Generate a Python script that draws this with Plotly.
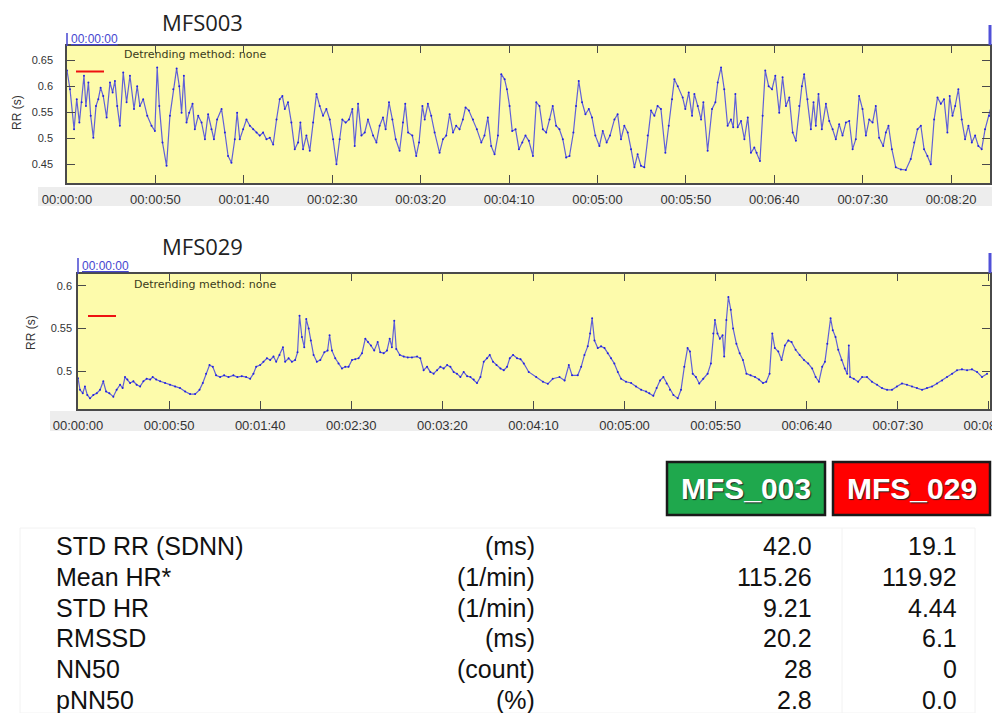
import plotly.graph_objects as go

# ---------------------------------------------------------------- data
# RR tachogram of subject MFS003: (time in s, RR interval in s)
rr_mfs003 = [
    (0, 0.63), (1.7, 0.594), (4.0, 0.517), (5.5, 0.575), (7.0, 0.53), (8.3, 0.569),
    (9.6, 0.62), (10.7, 0.562), (12.1, 0.607), (13.4, 0.543), (14.9, 0.501), (16.4, 0.562),
    (17.7, 0.575), (19.0, 0.597), (20.5, 0.581), (22.4, 0.54), (24.3, 0.607), (25.8, 0.588),
    (27.1, 0.61), (28.4, 0.562), (29.9, 0.524), (31.8, 0.626), (33.7, 0.569), (35.6, 0.62),
    (37.9, 0.556), (39.7, 0.60), (41.2, 0.562), (43.1, 0.575), (45.4, 0.543), (47.8, 0.524),
    (49.7, 0.514), (51.0, 0.636), (52.2, 0.562), (54.0, 0.492), (56.3, 0.447), (58.2, 0.543),
    (60.1, 0.594), (62.0, 0.634), (63.5, 0.60), (64.8, 0.549), (66.1, 0.62), (67.6, 0.53),
    (69.1, 0.549), (71.0, 0.566), (72.3, 0.517), (74.2, 0.543), (76.1, 0.53), (78.0, 0.498),
    (79.8, 0.546), (81.7, 0.517), (83.1, 0.498), (84.9, 0.536), (87.4, 0.556), (89.3, 0.511),
    (91.1, 0.466), (93.0, 0.453), (94.9, 0.498), (96.2, 0.549), (97.7, 0.498), (99.6, 0.517),
    (101.5, 0.536), (103.4, 0.524), (105.3, 0.517), (107.2, 0.511), (109.0, 0.505), (110.9, 0.511),
    (112.8, 0.498), (114.7, 0.501), (116.6, 0.488), (118.5, 0.536), (120.3, 0.575), (121.8, 0.581),
    (123.2, 0.556), (125.0, 0.569), (126.9, 0.53), (128.8, 0.479), (130.7, 0.492), (132.0, 0.53),
    (133.5, 0.479), (135.4, 0.505), (137.3, 0.476), (139.2, 0.53), (141.1, 0.585), (142.9, 0.562),
    (144.8, 0.543), (146.7, 0.556), (148.6, 0.536), (150.5, 0.498), (152.4, 0.45), (154.2, 0.498),
    (155.7, 0.536), (157.6, 0.53), (159.5, 0.536), (161.4, 0.556), (162.7, 0.485), (164.6, 0.566),
    (166.5, 0.505), (168.4, 0.511), (170.2, 0.536), (173.1, 0.505), (175.0, 0.492), (176.8, 0.524),
    (178.7, 0.54), (180.2, 0.517), (182.1, 0.569), (184.0, 0.536), (185.9, 0.498), (188.1, 0.476),
    (190.0, 0.53), (191.3, 0.566), (192.9, 0.511), (195.3, 0.505), (197.5, 0.466), (199.1, 0.492),
    (201.0, 0.562), (202.3, 0.536), (204.1, 0.566), (206.0, 0.543), (207.9, 0.511), (210.7, 0.472),
    (212.6, 0.498), (214.5, 0.505), (216.4, 0.546), (218.3, 0.511), (220.1, 0.524), (222.0, 0.517),
    (223.9, 0.536), (225.4, 0.559), (227.3, 0.553), (229.6, 0.536), (231.8, 0.517), (234.3, 0.492),
    (236.1, 0.505), (238.0, 0.54), (239.9, 0.485), (241.8, 0.469), (243.7, 0.505), (245.6, 0.623),
    (247.5, 0.613), (248.8, 0.594), (250.3, 0.562), (251.8, 0.514), (253.7, 0.517), (255.6, 0.479),
    (257.5, 0.492), (259.3, 0.505), (261.2, 0.495), (263.5, 0.466), (265.4, 0.569), (267.2, 0.562),
    (269.1, 0.517), (271.0, 0.511), (272.9, 0.536), (274.7, 0.562), (276.6, 0.524), (278.5, 0.517),
    (280.4, 0.498), (282.3, 0.463), (284.2, 0.466), (286.4, 0.511), (287.9, 0.562), (289.4, 0.61),
    (291.3, 0.569), (293.2, 0.546), (295.1, 0.556), (296.9, 0.54), (298.8, 0.505), (301.1, 0.485),
    (303.0, 0.514), (305.2, 0.492), (307.1, 0.505), (309.6, 0.536), (311.4, 0.546), (313.3, 0.498),
    (315.2, 0.524), (317.1, 0.511), (319.0, 0.479), (320.9, 0.444), (322.7, 0.469), (324.6, 0.447),
    (326.5, 0.444), (328.4, 0.505), (330.3, 0.553), (332.2, 0.543), (334.0, 0.562), (335.9, 0.556),
    (338.4, 0.472), (340.3, 0.524), (342.2, 0.575), (343.5, 0.613), (345.4, 0.60), (348.2, 0.578),
    (349.7, 0.556), (351.6, 0.588), (353.5, 0.543), (354.8, 0.585), (356.7, 0.562), (358.6, 0.536),
    (359.9, 0.569), (362.3, 0.476), (364.8, 0.556), (366.7, 0.569), (368.0, 0.607), (369.9, 0.636),
    (371.7, 0.594), (373.6, 0.524), (375.5, 0.536), (376.8, 0.521), (378.0, 0.585), (379.3, 0.521),
    (381.2, 0.533), (383.1, 0.498), (385.0, 0.54), (386.8, 0.472), (388.7, 0.482), (390.0, 0.472),
    (391.9, 0.456), (393.4, 0.543), (394.9, 0.63), (396.8, 0.60), (398.7, 0.594), (400.6, 0.62),
    (402.8, 0.549), (404.7, 0.617), (406.6, 0.562), (408.5, 0.578), (410.4, 0.511), (412.2, 0.495),
    (414.1, 0.562), (415.6, 0.60), (416.9, 0.623), (418.8, 0.575), (420.7, 0.517), (422.2, 0.569),
    (423.5, 0.524), (425.0, 0.585), (426.9, 0.517), (429.2, 0.566), (431.1, 0.533), (433.0, 0.517),
    (434.8, 0.498), (436.7, 0.527), (438.6, 0.505), (440.5, 0.53), (442.4, 0.533), (444.3, 0.479),
    (446.1, 0.498), (448.0, 0.581), (449.9, 0.556), (451.8, 0.505), (453.7, 0.536), (455.6, 0.53),
    (457.4, 0.562), (459.3, 0.501), (461.6, 0.485), (463.1, 0.511), (464.6, 0.524), (466.5, 0.479),
    (468.7, 0.444), (471.6, 0.44), (474.4, 0.439), (477.2, 0.46), (479.1, 0.492), (481.0, 0.517),
    (482.9, 0.524), (484.7, 0.479), (486.6, 0.466), (488.5, 0.45), (490.4, 0.536), (492.3, 0.578),
    (494.2, 0.566), (496.0, 0.575), (497.9, 0.511), (499.2, 0.581), (500.8, 0.543), (502.3, 0.562),
    (504.1, 0.594), (506.0, 0.536), (507.9, 0.498), (509.8, 0.524), (511.7, 0.492), (513.6, 0.505),
    (515.4, 0.485), (517.3, 0.479), (519.2, 0.517), (521.5, 0.543), (522.6, 0.56),
]

# RR tachogram of subject MFS029: (time in s, RR interval in s)
rr_mfs029 = [
    (0, 0.4915), (1.1, 0.478), (2.6, 0.474), (3.8, 0.482), (5.1, 0.472), (6.6, 0.468),
    (8.4, 0.472), (10.3, 0.474), (12.1, 0.478), (13.9, 0.488), (15.4, 0.476), (17.2, 0.474),
    (19.4, 0.470), (21.2, 0.478), (23.1, 0.484), (24.5, 0.480), (25.8, 0.493), (27.1, 0.490),
    (28.6, 0.486), (30.4, 0.488), (32.2, 0.484), (34.1, 0.482), (35.9, 0.488), (37.7, 0.491),
    (39.6, 0.490), (41.0, 0.493), (42.9, 0.490), (45.1, 0.488), (47.8, 0.486), (50.5, 0.484),
    (53.3, 0.482), (56.0, 0.480), (58.8, 0.476), (61.5, 0.473), (64.3, 0.473), (66.7, 0.478),
    (68.5, 0.486), (70.3, 0.497), (72.2, 0.507), (74.0, 0.505), (75.8, 0.495), (78.0, 0.493),
    (80.2, 0.495), (82.6, 0.493), (85.3, 0.495), (87.5, 0.493), (89.9, 0.494), (92.3, 0.493),
    (94.5, 0.491), (96.3, 0.497), (97.8, 0.505), (100.0, 0.507), (101.8, 0.511), (103.7, 0.515),
    (105.5, 0.513), (107.3, 0.517), (108.8, 0.511), (110.6, 0.519), (112.5, 0.528), (113.7, 0.511),
    (115.6, 0.515), (117.4, 0.511), (119.2, 0.513), (120.5, 0.522), (121.6, 0.565), (122.9, 0.540),
    (124.2, 0.528), (125.3, 0.561), (126.6, 0.550), (127.8, 0.536), (129.3, 0.519), (131.1, 0.511),
    (133.0, 0.513), (135.2, 0.522), (137.0, 0.524), (138.1, 0.542), (139.4, 0.524), (141.2, 0.515),
    (143.0, 0.509), (144.9, 0.503), (146.7, 0.505), (148.5, 0.505), (150.4, 0.513), (152.2, 0.514),
    (154.0, 0.515), (155.9, 0.521), (157.7, 0.538), (159.2, 0.534), (160.8, 0.530), (162.6, 0.524),
    (164.5, 0.534), (165.9, 0.522), (167.8, 0.521), (169.6, 0.524), (171.1, 0.538), (172.3, 0.528),
    (173.6, 0.559), (174.7, 0.526), (176.6, 0.519), (178.8, 0.517), (181.0, 0.516), (183.3, 0.516),
    (186.1, 0.517), (187.9, 0.515), (189.7, 0.501), (191.6, 0.505), (193.4, 0.499), (195.2, 0.497),
    (197.1, 0.501), (198.9, 0.505), (200.7, 0.503), (202.6, 0.507), (204.4, 0.505), (206.2, 0.499),
    (208.0, 0.497), (209.9, 0.493), (211.7, 0.499), (213.6, 0.494), (215.4, 0.493), (217.2, 0.490),
    (219.0, 0.486), (220.9, 0.493), (222.7, 0.511), (224.5, 0.515), (226.0, 0.519), (227.8, 0.511),
    (229.7, 0.507), (231.9, 0.503), (233.7, 0.501), (235.5, 0.505), (237.0, 0.515), (238.8, 0.519),
    (241.0, 0.515), (242.9, 0.514), (244.7, 0.509), (247.4, 0.499), (251.5, 0.493), (255.2, 0.4875),
    (257.9, 0.485), (260.6, 0.491), (264.3, 0.493), (267.1, 0.489), (269.4, 0.507), (271.2, 0.495),
    (274.3, 0.495), (276.2, 0.505), (278.0, 0.519), (279.8, 0.529), (281.1, 0.544), (282.2, 0.562),
    (283.5, 0.536), (285.3, 0.527), (287.1, 0.529), (289.0, 0.527), (290.8, 0.521), (292.6, 0.515),
    (294.4, 0.509), (296.3, 0.499), (298.1, 0.491), (300.8, 0.4875), (303.6, 0.486), (306.3, 0.482),
    (309.1, 0.478), (311.8, 0.476), (313.6, 0.474), (315.8, 0.471), (317.6, 0.480), (319.5, 0.489),
    (321.3, 0.493), (323.1, 0.4855), (324.9, 0.478), (326.8, 0.472), (329.2, 0.468), (331.0, 0.478),
    (332.8, 0.505), (334.6, 0.527), (335.9, 0.523), (337.4, 0.497), (339.2, 0.493), (341.0, 0.4855),
    (343.2, 0.491), (345.6, 0.497), (347.4, 0.509), (348.7, 0.544), (349.6, 0.560), (351.0, 0.544),
    (352.3, 0.538), (353.8, 0.542), (354.7, 0.517), (355.9, 0.560), (357.0, 0.587), (358.3, 0.572),
    (359.6, 0.550), (361.4, 0.532), (363.2, 0.521), (365.0, 0.513), (366.9, 0.497), (369.2, 0.495),
    (371.6, 0.493), (373.8, 0.490), (376.0, 0.486), (377.8, 0.4875), (379.6, 0.497), (381.1, 0.544),
    (382.5, 0.527), (384.4, 0.523), (386.2, 0.513), (388.0, 0.530), (389.9, 0.536), (391.7, 0.534),
    (393.9, 0.525), (396.1, 0.519), (398.5, 0.513), (400.8, 0.509), (403.0, 0.503), (404.9, 0.493),
    (406.7, 0.4875), (408.5, 0.505), (410.0, 0.511), (411.3, 0.532), (413.1, 0.562), (414.3, 0.548),
    (415.8, 0.540), (417.3, 0.525), (419.1, 0.513), (420.9, 0.503), (422.2, 0.497), (423.1, 0.530),
    (423.8, 0.493), (425.8, 0.491), (428.2, 0.4875), (430.4, 0.493), (433.1, 0.493), (435.8, 0.4875),
    (438.6, 0.484), (441.3, 0.480), (444.1, 0.478), (446.8, 0.478), (449.5, 0.482), (452.3, 0.4855),
    (455.0, 0.484), (457.8, 0.482), (460.5, 0.480), (463.3, 0.478), (466.0, 0.480), (468.8, 0.482),
    (471.5, 0.4855), (474.3, 0.489), (477.0, 0.493), (479.8, 0.497), (482.5, 0.501), (485.2, 0.502),
    (488.0, 0.501), (490.7, 0.502), (493.5, 0.499), (496.2, 0.493), (499.0, 0.497),
]

time_ticks = [0, 50, 100, 150, 200, 250, 300, 350, 400, 450, 500]
rr_ticks_003 = [0.45, 0.5, 0.55, 0.6, 0.65]
rr_ticks_029 = [0.5, 0.55, 0.6]

# HRV summary table
metric_names = ["STD RR (SDNN)", "Mean HR*", "STD HR", "RMSSD", "NN50", "pNN50"]
metric_units = ["(ms)", "(1/min)", "(1/min)", "(ms)", "(count)", "(%)"]
values_mfs003 = ["42.0", "115.26", "9.21", "20.2", "28", "2.8"]
values_mfs029 = ["19.1", "119.92", "4.44", "6.1", "0", "0.0"]
subjects = ["MFS_003", "MFS_029"]
subject_colors = ["#1fa84d", "#ff0000"]

# ---------------------------------------------------------------- helpers
W, H = 992, 713


def px(x):
    return x / W


def py(y):
    return 1 - y / H


def hms(sec):
    s = int(round(sec))
    return f"{s // 3600:02d}:{(s % 3600) // 60:02d}:{s % 60:02d}"


LINE = "#6060d8"
DOT = "#2222e0"
AX = "#4a4a4a"
TXT = "#333333"
TICKFONT = dict(family="Liberation Sans, Arial, sans-serif", size=13, color=TXT)

fig = go.Figure()

for data, xa, ya in ((rr_mfs003, "x", "y"), (rr_mfs029, "x2", "y2")):
    t, rr = zip(*data)
    fig.add_trace(go.Scatter(
        x=list(t), y=list(rr), xaxis=xa, yaxis=ya, mode="lines+markers",
        line=dict(color=LINE, width=1.2),
        marker=dict(color=DOT, size=2),
        showlegend=False, hoverinfo="skip", cliponaxis=True,
    ))

axis_common = dict(
    showline=True, linecolor=AX, linewidth=1.5, mirror="ticks",
    ticks="inside", ticklen=8, tickcolor=AX, tickwidth=1.2,
    showgrid=False, zeroline=False, fixedrange=True, automargin=False,
    ticklabeloverflow="allow",
)

fig.update_layout(
    width=W, height=H,
    margin=dict(l=0, r=0, t=0, b=0, pad=0, autoexpand=False),
    paper_bgcolor="white",
    plot_bgcolor="#fdfbab",
    showlegend=False,
    xaxis=dict(domain=[px(67), px(990)], range=[0, 522], anchor="y",
               tickvals=time_ticks, ticktext=[hms(v) for v in time_ticks],
               tickfont=TICKFONT, ticklabelstandoff=4, **axis_common),
    yaxis=dict(domain=[py(183), py(45.5)], range=[0.414, 0.678], anchor="x",
               tickvals=rr_ticks_003, ticktext=[f"{v:g}" for v in rr_ticks_003],
               tickfont=dict(TICKFONT, size=11), ticklabelstandoff=10, **axis_common),
    xaxis2=dict(domain=[px(78), px(990)], range=[0, 500.6], anchor="y2",
                tickvals=time_ticks, ticktext=[hms(v) for v in time_ticks],
                tickfont=TICKFONT, ticklabelstandoff=4, **axis_common),
    yaxis2=dict(domain=[py(409), py(273.5)], range=[0.4555, 0.6145], anchor="x2",
                tickvals=rr_ticks_029, ticktext=[f"{v:g}" for v in rr_ticks_029],
                tickfont=dict(TICKFONT, size=11), ticklabelstandoff=2, **axis_common),
)

shapes = []
annotations = []

# light band behind the time labels
for y0, y1, x0 in ((187, 206, 38), (411, 431, 50)):
    shapes.append(dict(type="rect", xref="paper", yref="paper", layer="below",
                       x0=px(x0), x1=1, y0=py(y1), y1=py(y0),
                       fillcolor="#ededed", line=dict(width=0)))

# per-panel decorations: title, cursor label, detrending note, red marker, axis title
panels = [
    dict(title="MFS003", tx=160, ty=22, cx=67, cy=39, cline=(33, 46), end=(25, 45),
         note=(122, 55), red=(76, 104, 71.5), ylab=(17, 113)),
    dict(title="MFS029", tx=160, ty=246, cx=78, cy=266, cline=(258, 274), end=(253, 273),
         note=(132, 284), red=(88, 116, 316), ylab=(31, 333)),
]
for p in panels:
    annotations.append(dict(text=p["title"], xref="paper", yref="paper",
                            x=px(p["tx"]), y=py(p["ty"]), xanchor="left", yanchor="middle",
                            showarrow=False,
                            font=dict(family="Open Sans, Liberation Sans, sans-serif",
                                      size=22, color="#222222")))
    annotations.append(dict(text="<u>00:00:00</u>", xref="paper", yref="paper",
                            x=px(p["cx"] + 2), y=py(p["cy"]), xanchor="left", yanchor="middle",
                            showarrow=False,
                            font=dict(family="Liberation Sans, Arial, sans-serif",
                                      size=12, color="#4646d0")))
    shapes.append(dict(type="line", xref="paper", yref="paper",
                       x0=px(p["cx"]), x1=px(p["cx"]), y0=py(p["cline"][0]), y1=py(p["cline"][1]),
                       line=dict(color="#4646d0", width=1.5)))
    shapes.append(dict(type="line", xref="paper", yref="paper",
                       x0=px(990), x1=px(990), y0=py(p["end"][0]), y1=py(p["end"][1]),
                       line=dict(color="#5050d8", width=3)))
    annotations.append(dict(text="Detrending method: none", xref="paper", yref="paper",
                            x=px(p["note"][0]), y=py(p["note"][1]), xanchor="left", yanchor="middle",
                            showarrow=False,
                            font=dict(family="DejaVu Sans, sans-serif", size=11, color="#3a3a1a")))
    rx0, rx1, ry = p["red"]
    shapes.append(dict(type="line", xref="paper", yref="paper",
                       x0=px(rx0), x1=px(rx1), y0=py(ry), y1=py(ry),
                       line=dict(color="#ee1111", width=2)))
    annotations.append(dict(text="RR (s)", xref="paper", yref="paper",
                            x=px(p["ylab"][0]), y=py(p["ylab"][1]), xanchor="center", yanchor="middle",
                            textangle=-90, showarrow=False,
                            font=dict(family="Liberation Sans, Arial, sans-serif", size=12, color=TXT)))

# ---------------------------------------------------------------- summary table
# faint table frame
shapes.append(dict(type="rect", xref="paper", yref="paper", layer="below",
                   x0=px(20), x1=px(975), y0=py(713), y1=py(528),
                   fillcolor="rgba(0,0,0,0)", line=dict(color="#f2f2f2", width=1)))
shapes.append(dict(type="line", xref="paper", yref="paper", layer="below",
                   x0=px(842), x1=px(842), y0=py(713), y1=py(528),
                   line=dict(color="#f2f2f2", width=1)))

# coloured subject headers
header_boxes = [(667, 825), (833, 990)]
for name, color, (x0, x1) in zip(subjects, subject_colors, header_boxes):
    shapes.append(dict(type="rect", xref="paper", yref="paper",
                       x0=px(x0), x1=px(x1), y0=py(515), y1=py(462),
                       fillcolor=color, line=dict(color="#1a1a1a", width=2.5)))
    annotations.append(dict(text=f"<b>{name}</b>", xref="paper", yref="paper",
                            x=px((x0 + x1) / 2), y=py(488.5), xanchor="center", yanchor="middle",
                            showarrow=False,
                            font=dict(family="Liberation Sans, Arial, sans-serif", size=30,
                                      color="white", shadow="1px 1px 1px #222")))

row_y = [545.5, 576.5, 607.5, 638, 669, 699.5]
TABLE_FONT = dict(family="Liberation Sans, Arial, sans-serif", size=25, color="#111111")
for name, unit, v1, v2, ry in zip(metric_names, metric_units, values_mfs003, values_mfs029, row_y):
    annotations.append(dict(text=name, xref="paper", yref="paper", x=px(54), y=py(ry),
                            xanchor="left", yanchor="middle", showarrow=False, font=TABLE_FONT))
    annotations.append(dict(text=unit, xref="paper", yref="paper", x=px(537), y=py(ry),
                            xanchor="right", yanchor="middle", showarrow=False, font=TABLE_FONT))
    annotations.append(dict(text=v1, xref="paper", yref="paper", x=px(814), y=py(ry),
                            xanchor="right", yanchor="middle", showarrow=False, font=TABLE_FONT))
    annotations.append(dict(text=v2, xref="paper", yref="paper", x=px(959), y=py(ry),
                            xanchor="right", yanchor="middle", showarrow=False, font=TABLE_FONT))

fig.update_layout(shapes=shapes, annotations=annotations)
fig.write_html("out.html")
